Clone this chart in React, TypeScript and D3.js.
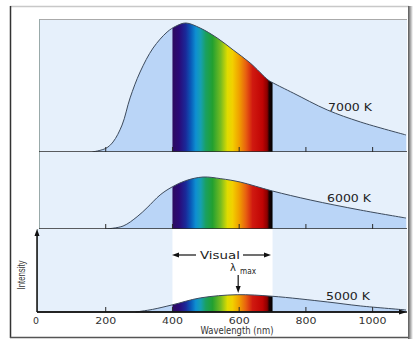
import React from "react";
import * as d3 from "d3";

// Wavelength (nm) and relative intensity (7000 K peak = 100)
const WL_7000 = [160, 200, 222, 249, 273, 303, 342, 384, 410, 440, 483, 534, 582, 633, 687, 702, 762, 864, 963, 1100];
const INT_7000 = [0, 2.8, 7.8, 20.9, 41.9, 62, 80.6, 93, 97.5, 100, 96.1, 88.4, 79.1, 69, 55.8, 53.5, 45.7, 32.6, 23.3, 13.2];

const WL_6000 = [200, 252, 294, 324, 363, 399, 440, 492, 545, 603, 699, 813, 963, 1100];
const INT_6000 = [0, 2.3, 9.5, 16.5, 26.4, 32.6, 37.5, 40.3, 39, 36.4, 29.5, 22.5, 14.7, 8.5];

const WL_5000 = [290, 340, 399, 483, 594, 699, 864, 963, 1100];
const INT_5000 = [0, 2, 5.5, 10.9, 13.4, 12.2, 7.8, 4.7, 1.6];

const TEMPS = ["7000 K", "6000 K", "5000 K"];
const TICKS = [0, 200, 400, 600, 800, 1000];

const SPEC_NM = [400, 420, 440, 455, 470, 485, 500, 520, 545, 565, 580, 600, 620, 640, 670, 684, 690, 700];
const SPEC_COL = ["#2c0b5e", "#2a0a78", "#1a2a9a", "#0a5ab8", "#0e8fd2", "#16a0b0", "#1aa060", "#22a030", "#78bc20", "#e0dc00", "#f2d000", "#f0a000", "#e86010", "#d01a10", "#c00404", "#8a0000", "#1a0404", "#000000"];

const BG = "#e6f0fb";
const FILL = "#bad5f7";
const STROKE = "#3c4a5c";

export default function App() {
  const x = d3.scaleLinear().domain([0, 1100]).range([39, 406]);
  const pxPerUnit = 1.29;
  const series = [
    { wl: WL_7000, val: INT_7000 },
    { wl: WL_6000, val: INT_6000 },
    { wl: WL_5000, val: INT_5000 },
  ];
  const layout = [
    { top: 19, base: 152, lx: 328, ly: 111 },
    { top: 152, base: 229, lx: 327, ly: 202 },
    { top: 229, base: 312, lx: 326, ly: 300 },
  ];
  const x400 = x(400);
  const x700 = x(700);
  const curve = d3.curveCatmullRom.alpha(0.5);

  return (
    <svg width={413} height={341} style={{ position: "absolute", left: 0, top: 0, background: "#fff" }}
      fontFamily="DejaVu Sans, sans-serif">
      <defs>
        <linearGradient id="spec" gradientUnits="userSpaceOnUse" x1={x400} x2={x700} y1={0} y2={0}>
          {SPEC_NM.map((nm, i) => (
            <stop key={i} offset={(nm - 400) / 300} stopColor={SPEC_COL[i]} />
          ))}
        </linearGradient>
        <clipPath id="visClip">
          <rect x={x400} y={0} width={x700 - x400} height={341} />
        </clipPath>
        <linearGradient id="shadow" x1="0" x2="1" y1="0" y2="0">
          <stop offset="0" stopColor="#555" />
          <stop offset="1" stopColor="#fff" />
        </linearGradient>
      </defs>

      {/* outer frame */}
      <line x1={10} x2={409} y1={6.5} y2={6.5} stroke="#c8c8c8" strokeWidth={1.5} />
      <line x1={10.5} x2={10.5} y1={6} y2={338} stroke="#333" strokeWidth={1.5} />
      <line x1={10} x2={409} y1={337.5} y2={337.5} stroke="#555" strokeWidth={1.5} />
      <rect x={408} y={6} width={5} height={333} fill="url(#shadow)" />

      {layout.map((L, i) => {
        const s = series[i];
        const y = d3.scaleLinear().domain([0, (L.base - L.top) / pxPerUnit]).range([L.base, L.top]);
        const pts = s.wl.map((w, j) => [w, s.val[j]] as [number, number]);
        const area = d3.area<[number, number]>().x(d => x(d[0])).y0(L.base).y1(d => Math.min(L.base, y(d[1]))).curve(curve);
        const line = d3.line<[number, number]>().x(d => x(d[0])).y(d => Math.min(L.base, y(d[1]))).curve(curve);
        const left = i === 2 ? 37 : 39;
        return (
          <g key={i}>
            <rect x={left} y={L.top} width={407 - left} height={L.base - L.top} fill={BG} />
            {i === 2 && <rect x={x400} y={L.top} width={x700 - x400} height={L.base - L.top} fill="#fff" />}
            <path d={area(pts) || ""} fill={FILL} />
            <path d={area(pts) || ""} fill="url(#spec)" clipPath="url(#visClip)" />
            <path d={line(pts) || ""} fill="none" stroke={STROKE} strokeWidth={1} />
            {i === 0 && <line x1={39} x2={407} y1={L.top + 0.5} y2={L.top + 0.5} stroke="#aaa" strokeWidth={1} />}
            <line x1={left + 0.5} x2={left + 0.5} y1={L.top} y2={L.base} stroke="#9aa" strokeWidth={1} />
            <line x1={left} x2={407} y1={L.base} y2={L.base} stroke="#2a2a2a" strokeWidth={1.5} />
            {TICKS.filter(t => t > 0).map(t => (
              <line key={t} x1={x(t)} x2={x(t)} y1={L.base} y2={L.base - 5} stroke="#2a2a2a" strokeWidth={1} />
            ))}
            <text x={L.lx} y={L.ly} fontSize={10} fill="#222" textLength={44} lengthAdjust="spacingAndGlyphs">{TEMPS[i]}</text>
          </g>
        );
      })}

      {/* bottom axes with arrows */}
      <line x1={37} x2={37} y1={312} y2={234} stroke="#111" strokeWidth={1.5} />
      <path d="M37,229 L34.5,236 L39.5,236 Z" fill="#111" />
      <line x1={37} x2={400} y1={312} y2={312} stroke="#111" strokeWidth={1.5} />
      <path d="M407,312 L399,309.5 L399,314.5 Z" fill="#111" />

      {/* Visual annotation */}
      <line x1={176} x2={196} y1={255} y2={255} stroke="#111" strokeWidth={1.2} />
      <path d="M172,255 L179,252.5 L179,257.5 Z" fill="#111" />
      <line x1={243} x2={266} y1={255} y2={255} stroke="#111" strokeWidth={1.2} />
      <path d="M271,255 L264,252.5 L264,257.5 Z" fill="#111" />
      <text x={220} y={259} fontSize={10.5} fill="#222" textAnchor="middle" textLength={40} lengthAdjust="spacingAndGlyphs">Visual</text>

      {/* lambda max */}
      <text x={233} y={271} fontSize={10} fill="#222" textAnchor="middle">λ</text>
      <text x={240} y={274} fontSize={8} fill="#222" textLength={16} lengthAdjust="spacingAndGlyphs">max</text>
      <line x1={x(600) - 1} x2={x(600) - 1} y1={275} y2={288} stroke="#111" strokeWidth={1.2} />
      <path d={`M${x(600) - 1},293 L${x(600) - 3.5},286 L${x(600) + 1.5},286 Z`} fill="#111" />

      {/* tick labels */}
      {TICKS.map(t => (
        <text key={t} x={x(t) - (t === 0 ? 3 : 0)} y={324} fontSize={9.5} fill="#333" textAnchor="middle"
          textLength={t === 0 ? 6 : t === 1000 ? 28 : 21} lengthAdjust="spacingAndGlyphs">{t}</text>
      ))}
      <text x={237} y={334} fontSize={10} fill="#333" textAnchor="middle" textLength={73} lengthAdjust="spacingAndGlyphs">Wavelength (nm)</text>
      <text transform="translate(25,275) rotate(-90)" fontSize={10} fill="#333" textAnchor="middle"
        textLength={29} lengthAdjust="spacingAndGlyphs" fontFamily="Liberation Sans, sans-serif">Intensity</text>
    </svg>
  );
}
